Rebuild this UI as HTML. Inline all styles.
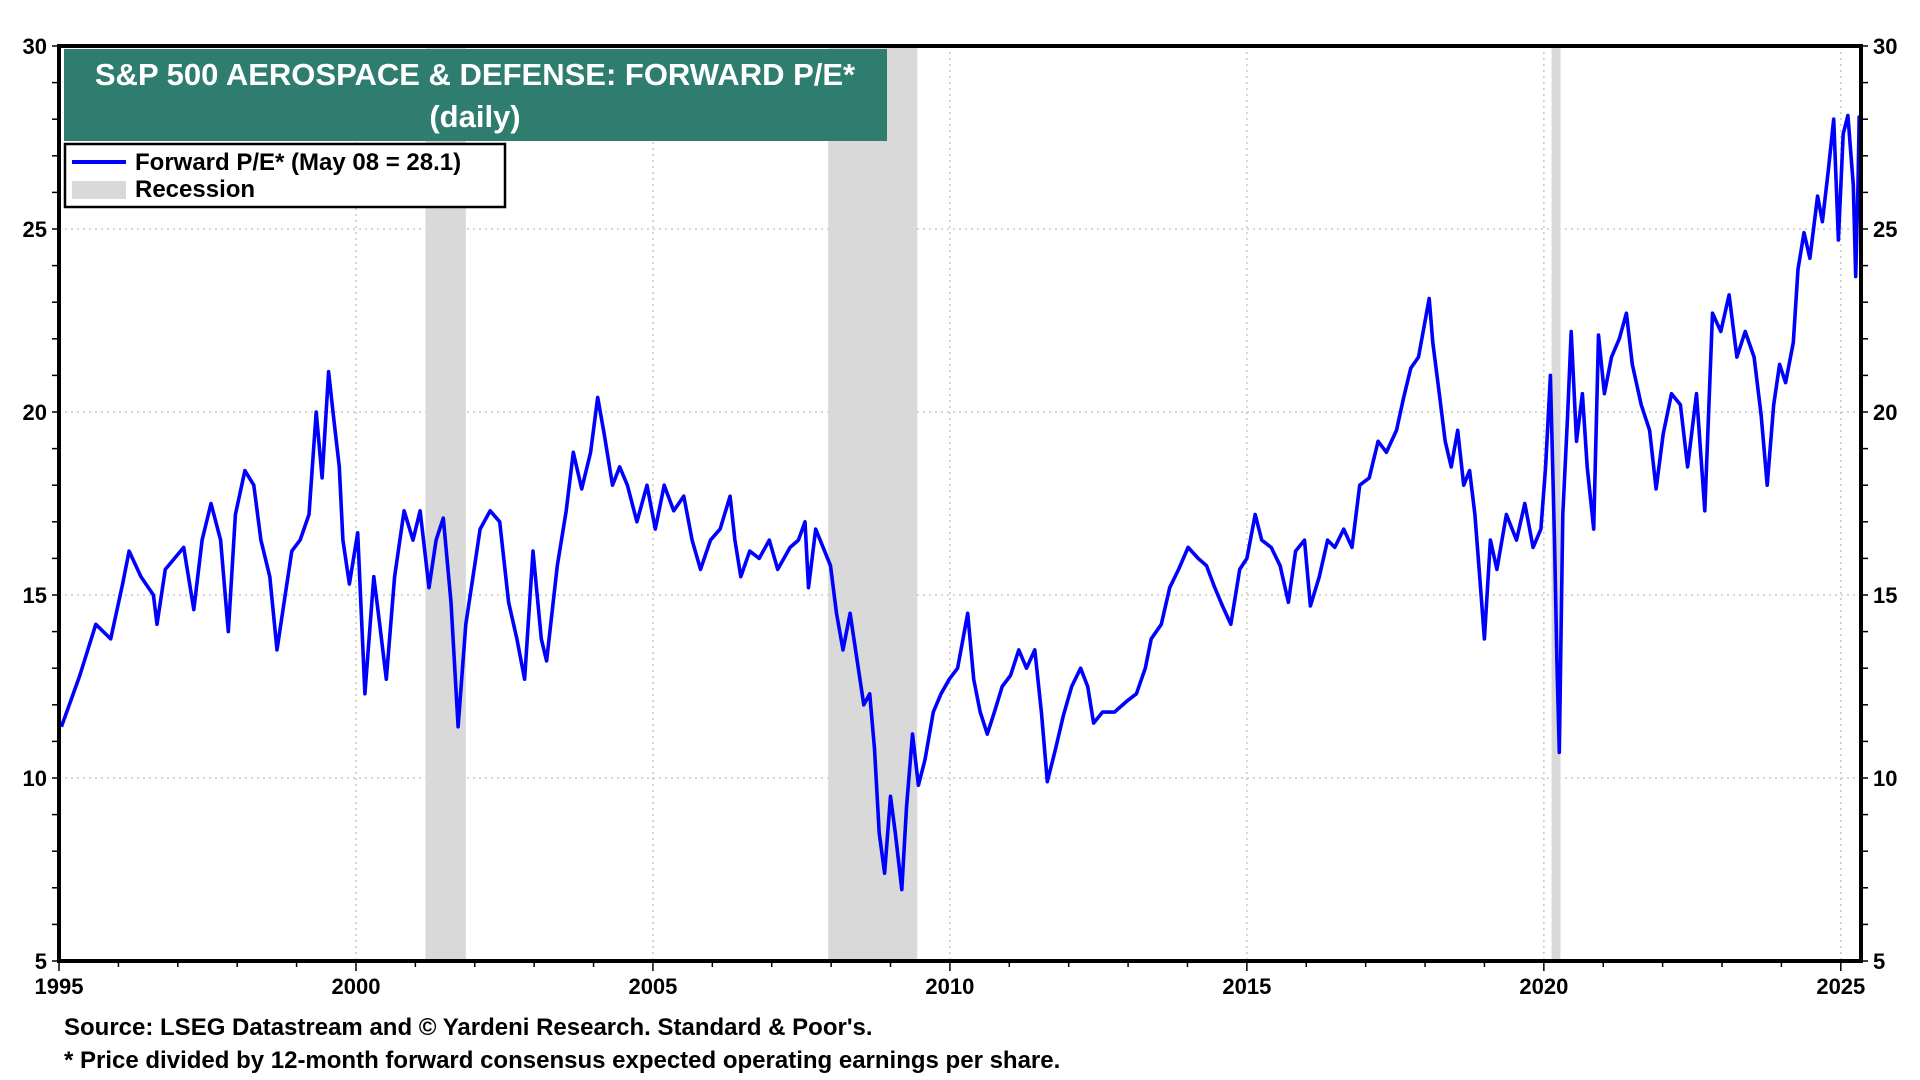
<!DOCTYPE html>
<html><head><meta charset="utf-8"><style>
html,body{margin:0;padding:0;background:#fff;width:1920px;height:1080px;overflow:hidden}
svg{display:block}
text{font-family:"Liberation Sans",Arial,sans-serif;font-weight:bold}
</style></head><body>
<svg id="chart" width="1920" height="1080" viewBox="0 0 1920 1080" xmlns="http://www.w3.org/2000/svg">
<g id="grid"></g>
<g id="rec"></g>
<g id="series"></g>
<g id="axes"></g>
<g>
<rect x="64" y="49" width="823" height="92" fill="#2e7d6f"/>
<text x="475" y="85" fill="#fff" font-size="31" text-anchor="middle">S&amp;P 500 AEROSPACE &amp; DEFENSE: FORWARD P/E*</text>
<text x="475" y="127" fill="#fff" font-size="31" text-anchor="middle">(daily)</text>
</g>
<g>
<rect x="65" y="144" width="440" height="63" fill="#fff" stroke="#000" stroke-width="2.5"/>
<line x1="72" y1="162" x2="126" y2="162" stroke="#0000ff" stroke-width="4"/>
<text x="135" y="170" font-size="24">Forward P/E* (May 08 = 28.1)</text>
<rect x="72" y="181" width="54" height="18" fill="#d9d9d9"/>
<text x="135" y="197" font-size="24">Recession</text>
</g>
<text x="64" y="1035" font-size="24">Source: LSEG Datastream and © Yardeni Research. Standard &amp; Poor's.</text>
<text x="64" y="1068" font-size="24">* Price divided by 12-month forward consensus expected operating earnings per share.</text>
</svg>
<script>
const dates=[1995.04,1995.35,1995.62,1995.87,1996.07,1996.18,1996.38,1996.59,1996.65,1996.79,1997.10,1997.27,1997.41,1997.56,1997.72,1997.85,1997.97,1998.13,1998.28,1998.40,1998.55,1998.67,1998.79,1998.92,1999.06,1999.21,1999.33,1999.43,1999.54,1999.62,1999.72,1999.78,1999.89,2000.03,2000.15,2000.30,2000.40,2000.51,2000.65,2000.81,2000.96,2001.08,2001.23,2001.35,2001.47,2001.60,2001.72,2001.85,2001.97,2002.09,2002.26,2002.42,2002.57,2002.71,2002.84,2002.98,2003.12,2003.21,2003.39,2003.54,2003.66,2003.80,2003.95,2004.07,2004.18,2004.32,2004.44,2004.57,2004.73,2004.90,2005.04,2005.19,2005.35,2005.52,2005.66,2005.80,2005.97,2006.13,2006.30,2006.38,2006.48,2006.63,2006.79,2006.96,2007.10,2007.31,2007.45,2007.56,2007.62,2007.74,2007.89,2007.99,2008.09,2008.20,2008.32,2008.44,2008.55,2008.65,2008.73,2008.81,2008.90,2009.00,2009.08,2009.19,2009.27,2009.37,2009.47,2009.58,2009.72,2009.85,2009.99,2010.13,2010.22,2010.30,2010.40,2010.51,2010.63,2010.75,2010.88,2011.02,2011.16,2011.29,2011.43,2011.54,2011.64,2011.78,2011.91,2012.05,2012.20,2012.32,2012.42,2012.57,2012.77,2012.98,2013.14,2013.29,2013.39,2013.56,2013.70,2013.85,2014.01,2014.18,2014.32,2014.46,2014.59,2014.73,2014.88,2015.00,2015.14,2015.25,2015.41,2015.56,2015.70,2015.82,2015.97,2016.07,2016.22,2016.36,2016.48,2016.63,2016.77,2016.90,2017.06,2017.21,2017.35,2017.52,2017.64,2017.76,2017.89,2017.99,2018.07,2018.13,2018.24,2018.34,2018.44,2018.55,2018.65,2018.75,2018.84,2018.92,2019.00,2019.10,2019.21,2019.37,2019.54,2019.68,2019.82,2019.95,2020.03,2020.11,2020.18,2020.22,2020.26,2020.32,2020.40,2020.46,2020.55,2020.65,2020.73,2020.84,2020.92,2021.02,2021.14,2021.27,2021.39,2021.49,2021.64,2021.78,2021.89,2022.01,2022.15,2022.30,2022.42,2022.57,2022.71,2022.84,2022.98,2023.12,2023.25,2023.39,2023.54,2023.66,2023.76,2023.87,2023.97,2024.07,2024.20,2024.28,2024.38,2024.48,2024.61,2024.69,2024.79,2024.88,2024.96,2025.04,2025.12,2025.21,2025.25,2025.29,2025.31];
const values=[11.4,12.8,14.2,13.8,15.3,16.2,15.5,15.0,14.2,15.7,16.3,14.6,16.5,17.5,16.5,14.0,17.2,18.4,18.0,16.5,15.5,13.5,14.8,16.2,16.5,17.2,20.0,18.2,21.1,19.9,18.5,16.5,15.3,16.7,12.3,15.5,14.2,12.7,15.5,17.3,16.5,17.3,15.2,16.5,17.1,14.8,11.4,14.2,15.5,16.8,17.3,17.0,14.8,13.8,12.7,16.2,13.8,13.2,15.8,17.3,18.9,17.9,18.9,20.4,19.4,18.0,18.5,18.0,17.0,18.0,16.8,18.0,17.3,17.7,16.5,15.7,16.5,16.8,17.7,16.5,15.5,16.2,16.0,16.5,15.7,16.3,16.5,17.0,15.2,16.8,16.2,15.8,14.5,13.5,14.5,13.2,12.0,12.3,10.8,8.5,7.4,9.5,8.5,6.95,9.2,11.2,9.8,10.5,11.8,12.3,12.7,13.0,13.8,14.5,12.7,11.8,11.2,11.8,12.5,12.8,13.5,13.0,13.5,11.8,9.9,10.8,11.7,12.5,13.0,12.5,11.5,11.8,11.8,12.1,12.3,13.0,13.8,14.2,15.2,15.7,16.3,16.0,15.8,15.2,14.7,14.2,15.7,16.0,17.2,16.5,16.3,15.8,14.8,16.2,16.5,14.7,15.5,16.5,16.3,16.8,16.3,18.0,18.2,19.2,18.9,19.5,20.4,21.2,21.5,22.4,23.1,21.9,20.5,19.2,18.5,19.5,18.0,18.4,17.2,15.5,13.8,16.5,15.7,17.2,16.5,17.5,16.3,16.8,18.5,21.0,16.5,13.2,10.7,17.2,19.9,22.2,19.2,20.5,18.5,16.8,22.1,20.5,21.5,22.0,22.7,21.3,20.2,19.5,17.9,19.4,20.5,20.2,18.5,20.5,17.3,22.7,22.2,23.2,21.5,22.2,21.5,19.9,18.0,20.2,21.3,20.8,21.9,23.9,24.9,24.2,25.9,25.2,26.6,28.0,24.7,27.6,28.1,26.2,23.7,26.2,28.1];
const yTicks=[5,10,15,20,25,30];
const xTicks=[1995,2000,2005,2010,2015,2020,2025];
const recStart=[2001.17,2007.95,2020.13];
const recEnd=[2001.85,2009.45,2020.28];

const L=59,R=1861,T=46,B=961,Y0=1995,Y1=2025.34,V0=5,V1=30;
function xs(d){return L+(d-Y0)/(Y1-Y0)*(R-L);}
function ys(v){return B-(v-V0)/(V1-V0)*(B-T);}
const NS='http://www.w3.org/2000/svg';
function mk(tag,attrs,parent){const e=document.createElementNS(NS,tag);for(const k in attrs)e.setAttribute(k,attrs[k]);parent.appendChild(e);return e;}
const grid=document.getElementById('grid'),rec=document.getElementById('rec'),ser=document.getElementById('series'),axes=document.getElementById('axes');

for(let i=0;i<recStart.length;i++){
  const r=mk('rect',{x:xs(recStart[i]),y:T,width:xs(recEnd[i])-xs(recStart[i]),height:B-T,fill:'#d9d9d9'},rec);
  
  
}
yTicks.forEach(v=>{
  if(v>V0&&v<V1){const g=mk('line',{x1:L,x2:R,y1:ys(v),y2:ys(v),stroke:'#c8c8c8','stroke-width':1.5,'stroke-dasharray':'2,4'},grid);
  
  }
  const t1=mk('text',{x:L-12,y:ys(v)+8,'font-size':22,'text-anchor':'end'},axes);t1.textContent=v;
  
  
  const t2=mk('text',{x:R+12,y:ys(v)+8,'font-size':22,'text-anchor':'start'},axes);t2.textContent=v;
  
  
});
for(let v=V0;v<=V1;v++){
  mk('line',{x1:L-7,x2:L,y1:ys(v),y2:ys(v),stroke:'#000','stroke-width':1.5},axes);
  mk('line',{x1:R,x2:R+7,y1:ys(v),y2:ys(v),stroke:'#000','stroke-width':1.5},axes);
}
xTicks.forEach(d=>{
  if(d>Y0){const g=mk('line',{x1:xs(d),x2:xs(d),y1:T,y2:B,stroke:'#c8c8c8','stroke-width':1.5,'stroke-dasharray':'2,4'},grid);
  
  }
  const t=mk('text',{x:xs(d),y:B+33,'font-size':22,'text-anchor':'middle'},axes);t.textContent=d;
  
  
});
for(let d=1995;d<=2025;d++){
  mk('line',{x1:xs(d),x2:xs(d),y1:B,y2:B+(d%5==0?10:6),stroke:'#000','stroke-width':1.5},axes);
}
let p='';
for(let i=0;i<dates.length;i++){p+=(i?'L':'M')+xs(dates[i]).toFixed(1)+','+ys(values[i]).toFixed(1);}
const line=mk('path',{d:p,fill:'none',stroke:'#0000ff','stroke-width':3.6,'stroke-linejoin':'round'},ser);


const frame=mk('rect',{x:L,y:T,width:R-L,height:B-T,fill:'none',stroke:'#000','stroke-width':4},axes);


</script>
</body></html>
